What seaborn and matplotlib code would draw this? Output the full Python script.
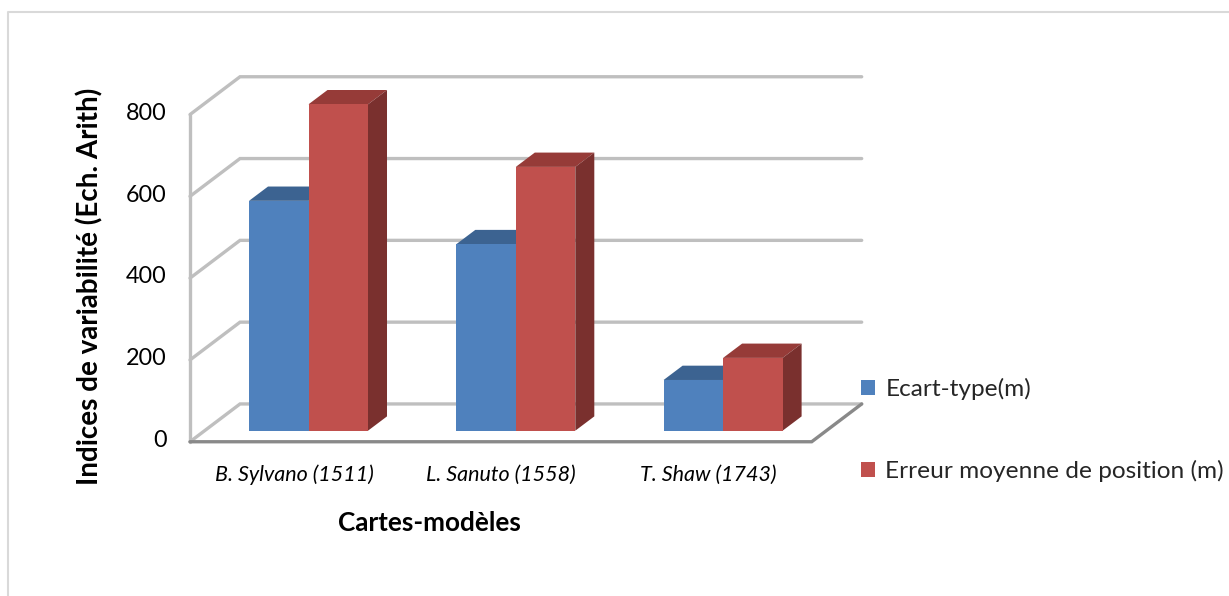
import matplotlib
matplotlib.use("Agg")
import matplotlib.pyplot as plt
from matplotlib.patches import Polygon
from matplotlib.lines import Line2D
import matplotlib.colors as mcolors
import pandas as pd
import seaborn as sns

# ---- data -------------------------------------------------------------
categories = ["B. Sylvano (1511)", "L. Sanuto (1558)", "T. Shaw (1743)"]
series = ["Ecart-type(m)", "Erreur moyenne de position (m)"]
ecart_type = [562, 456, 124]
erreur_moyenne = [798, 645, 178]
y_ticks = [0, 200, 400, 600, 800]

y_label = "Indices de variabilité (Ech. Arith)"
x_label = "Cartes-modèles"

df = pd.DataFrame({
    "carte": categories * 2,
    "serie": [series[0]] * 3 + [series[1]] * 3,
    "valeur": ecart_type + erreur_moyenne,
})

# ---- style ------------------------------------------------------------
sns.set_theme(style="white")
plt.rcParams["font.family"] = ["Lato", "DejaVu Sans"]

blue, red = "#4f81bd", "#c0504d"
top_col = {blue: "#3c6391", red: "#963b38"}
side_col = {blue: "#2f4f75", red: "#7a302e"}
grid_col = "#bfbfbf"
floor_col = "#898989"

W, H = 1229, 596
fig = plt.figure(figsize=(W / 100, H / 100), dpi=100)
ax = fig.add_axes([0, 0, 1, 1])

# scale: one category = 207.3 px, one unit = 0.409 px, bar plane at y=430.7 px
px_x, px_y = 207.3, 0.409
xlim = (-308.5 / px_x, (W - 308.5) / px_x)
ylim = ((430.7 - H) / px_y, 430.7 / px_y)

# depth offsets of the 3-D box (relative to the bars' front plane)
back_dy = 65.4
front_dx, front_dy = -0.0705, -27.0
bar_dx, bar_dy = 0.0917, 35.0

# corners of the floor / left wall
fl, fr = -0.5716, 2.4274
bl, br = -0.3304, 2.6686

# walls and gridlines
for v in y_ticks:
    ax.add_line(Line2D([fl, bl, br], [v + front_dy, v + back_dy, v + back_dy],
                       color=grid_col, lw=2.4, zorder=1, solid_joinstyle="miter"))
ax.add_line(Line2D([fl, fl], [front_dy, y_ticks[-1] + front_dy],
                   color=grid_col, lw=2.4, zorder=1))
ax.add_line(Line2D([fl, fr, br], [front_dy, front_dy, back_dy],
                   color=floor_col, lw=2.4, zorder=1.2, solid_joinstyle="miter"))

# front faces of the columns
sns.barplot(data=df, x="carte", y="valeur", hue="serie", order=categories,
            hue_order=series, palette=[blue, red], width=0.574, linewidth=0,
            saturation=1, ax=ax, zorder=3)

# top and side faces
bars = [p for p in ax.patches if p.get_height() > 0]
for p in bars:
    x0, w, h = p.get_x(), p.get_width(), p.get_height()
    fc = mcolors.to_hex(p.get_facecolor()).lower()
    z = 3 if fc == blue else 5
    p.set_zorder(z)
    top = Polygon([(x0, h), (x0 + w, h), (x0 + w + bar_dx, h + bar_dy), (x0 + bar_dx, h + bar_dy)],
                  closed=True, facecolor=top_col.get(fc, fc), edgecolor="none", zorder=z - 0.5)
    side = Polygon([(x0 + w, 0), (x0 + w + bar_dx, bar_dy), (x0 + w + bar_dx, h + bar_dy), (x0 + w, h)],
                   closed=True, facecolor=side_col.get(fc, fc), edgecolor="none", zorder=z - 0.5)
    ax.add_patch(top)
    ax.add_patch(side)

ax.set_xlim(*xlim)
ax.set_ylim(*ylim)

# value axis labels along the front edge of the left wall
for v in y_ticks:
    ax.text(-0.6826, v + front_dy + 3, f"{v}", ha="right", va="center",
            fontsize=16.8, color="#000000")

# category labels
for i, c in enumerate(categories):
    ax.text(i + front_dx, -108, c, ha="center", va="center",
            fontsize=15.5, style="italic", color="#000000")

ax.text((429 - 308.5) / px_x, (430.7 - 523) / px_y, x_label, ha="center", va="center",
        fontsize=18.8, fontweight="bold", color="#000000")
ax.text((90 - 308.5) / px_x, (430.7 - 286.5) / px_y, y_label, ha="center", va="center",
        rotation=90, fontsize=20, fontweight="bold", color="#000000")

ax.set_xlabel("")
ax.set_ylabel("")
ax.set_axis_off()

sns.move_legend(ax, loc="upper left", bbox_to_anchor=(861 / W, 1 - 378 / H),
                bbox_transform=fig.transFigure, title=None, frameon=False,
                fontsize=17.6, handlelength=0.58, handleheight=0.58,
                handletextpad=0.42, labelspacing=2.45, borderpad=0, borderaxespad=0)

# chart border
fig.add_artist(Line2D([8 / W, 8 / W, 1], [0, 1 - 12 / H, 1 - 12 / H],
                      transform=fig.transFigure, color="#d9d9d9", lw=1.5))

fig.savefig("out.png", dpi=100, facecolor="white")
